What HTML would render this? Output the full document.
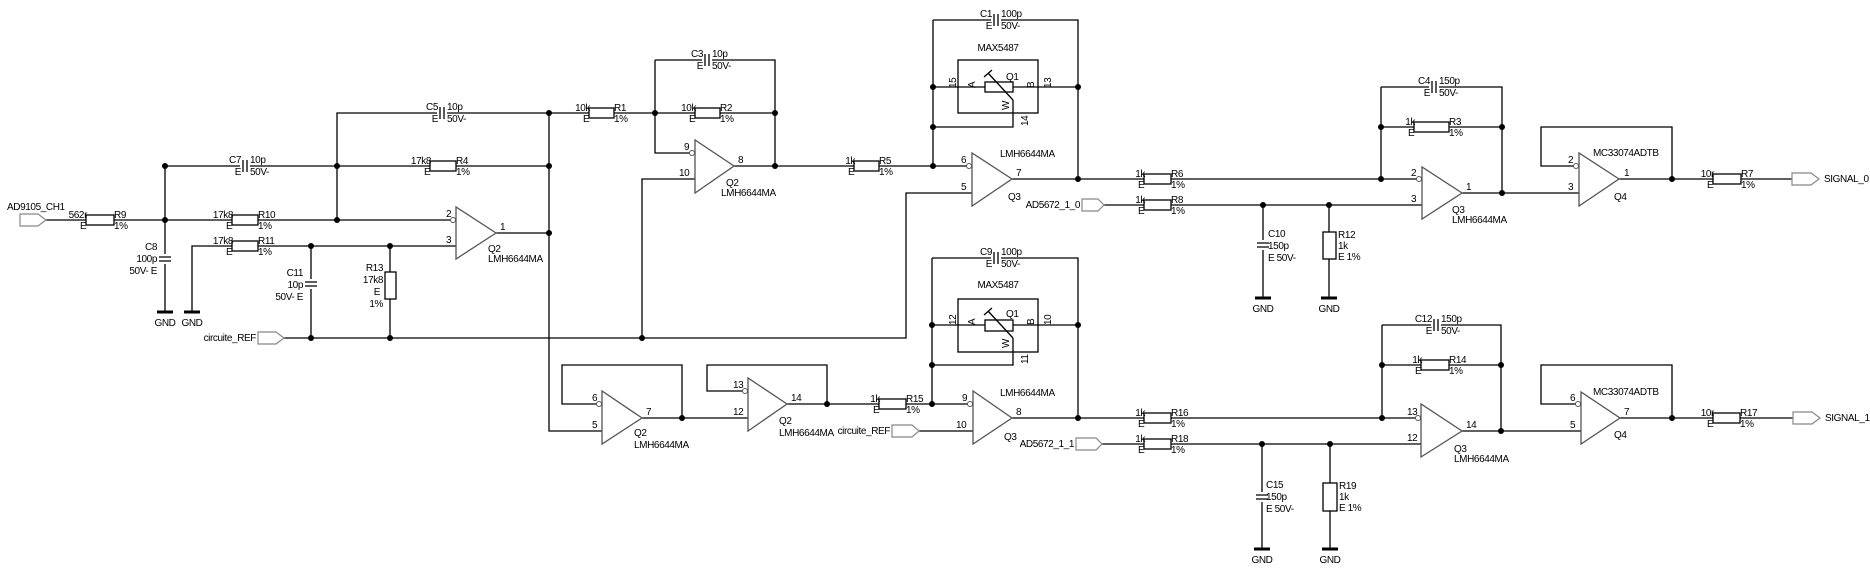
<!DOCTYPE html>
<html><head><meta charset="utf-8"><style>
html,body{margin:0;padding:0;background:#fff;}
svg{display:block}
text{font-family:"Liberation Sans",Arial,sans-serif;font-size:10px;fill:#000;letter-spacing:-0.4px}
.w{fill:none;stroke:#000;stroke-width:1.3}
.c{fill:#fff;stroke:#000;stroke-width:1.3}
.p{fill:#fff;stroke:#888;stroke-width:1.2}
.g{stroke:#000;stroke-width:3}
</style></head><body>
<svg width="1870" height="574" viewBox="0 0 1870 574" xmlns="http://www.w3.org/2000/svg">
<!-- wires -->
<path class="w" d="
M46 220H452 M165 166V312 M165 166H549 M337 220V113H549 M192 312V246H456 M311 246V338 M390 246V338
M284 338H906V193H972 M496 233H549 M549 113V431H602 M549 113H655H775 M655 60V153H693 M655 60H775V166
M642 338V179H695 M734 166H968 M933 20V166 M933 20H1078V179 M933 87H1078 M933 127H1013V100
M1012 179H1418 M1104 205H1422 M1381 87V179 M1381 87H1502V193 M1381 127H1502 M1462 193H1579
M1263 205V298 M1329 205V298 M1619 179H1792 M1576 166H1541V127H1672V179
M599 404H562V365H682V418 M642 418H748 M745 391H707V365H827V404 M787 404H969 M919 431H973
M932 258V404 M932 258H1078V418 M932 325H1078 M932 365H1013V338 M1012 418H1418 M1102 444H1421
M1382 325V418 M1382 325H1501V431 M1382 365H1501 M1462 431H1581 M1262 444V549 M1330 444V549
M1578 404H1541V365H1672V418 M1620 418H1793"/>
<!-- ground bars -->
<path class="g" d="M157 312H173 M184 312H200 M1255 298H1271 M1321 298H1337 M1254 549H1270 M1322 549H1338"/>
<g text-anchor="middle"><text x="165" y="326">GND</text><text x="192" y="326">GND</text><text x="1263" y="312">GND</text><text x="1329" y="312">GND</text><text x="1262" y="563">GND</text><text x="1330" y="563">GND</text></g>
<!-- ports -->
<polygon class="p" points="20,214 38,214 46,220 38,226 20,226"/><text x="7" y="210">AD9105_CH1</text>
<polygon class="p" points="258,332 276,332 284,338 276,344 258,344"/><text x="256" y="341" text-anchor="end">circuite_REF</text>
<polygon class="p" points="1082,199 1098,199 1104,205 1098,211 1082,211"/><text x="1080" y="208" text-anchor="end">AD5672_1_0</text>
<polygon class="p" points="892,425 912,425 919,431 912,437 892,437"/><text x="890" y="434" text-anchor="end">circuite_REF</text>
<polygon class="p" points="1076,438 1096,438 1102,444 1096,450 1076,450"/><text x="1074" y="447" text-anchor="end">AD5672_1_1</text>
<polygon class="p" points="1792,173 1811,173 1819,179 1811,185 1792,185"/><text x="1824" y="182">SIGNAL_0</text>
<polygon class="p" points="1793,412 1812,412 1820,418 1812,424 1793,424"/><text x="1825" y="421">SIGNAL_1</text>
<!-- horizontal resistors -->
<g>
<rect class="c" x="86" y="215" width="28" height="10"/><text x="87" y="218" text-anchor="end">562r</text><text x="80" y="229">E</text><text x="114" y="218">R9</text><text x="114" y="229">1%</text>
<rect class="c" x="232" y="215" width="26" height="10"/><text x="233" y="218" text-anchor="end">17k8</text><text x="226" y="229">E</text><text x="258" y="218">R10</text><text x="258" y="229">1%</text>
<rect class="c" x="232" y="241" width="26" height="10"/><text x="233" y="244" text-anchor="end">17k8</text><text x="226" y="255">E</text><text x="258" y="244">R11</text><text x="258" y="255">1%</text>
<rect class="c" x="430" y="161" width="26" height="10"/><text x="431" y="164" text-anchor="end">17k8</text><text x="424" y="175">E</text><text x="456" y="164">R4</text><text x="456" y="175">1%</text>
<rect class="c" x="589" y="108" width="25" height="10"/><text x="590" y="111" text-anchor="end">10k</text><text x="583" y="122">E</text><text x="614" y="111">R1</text><text x="614" y="122">1%</text>
<rect class="c" x="695" y="108" width="25" height="10"/><text x="696" y="111" text-anchor="end">10k</text><text x="689" y="122">E</text><text x="720" y="111">R2</text><text x="720" y="122">1%</text>
<rect class="c" x="854" y="161" width="25" height="10"/><text x="855" y="164" text-anchor="end">1k</text><text x="848" y="175">E</text><text x="879" y="164">R5</text><text x="879" y="175">1%</text>
<rect class="c" x="1144" y="174" width="27" height="10"/><text x="1145" y="177" text-anchor="end">1k</text><text x="1138" y="188">E</text><text x="1171" y="177">R6</text><text x="1171" y="188">1%</text>
<rect class="c" x="1144" y="200" width="27" height="10"/><text x="1145" y="203" text-anchor="end">1k</text><text x="1138" y="214">E</text><text x="1171" y="203">R8</text><text x="1171" y="214">1%</text>
<rect class="c" x="1414" y="122" width="35" height="10"/><text x="1415" y="125" text-anchor="end">1k</text><text x="1408" y="136">E</text><text x="1449" y="125">R3</text><text x="1449" y="136">1%</text>
<rect class="c" x="1713" y="174" width="28" height="10"/><text x="1714" y="177" text-anchor="end">10r</text><text x="1707" y="188">E</text><text x="1741" y="177">R7</text><text x="1741" y="188">1%</text>
<rect class="c" x="879" y="399" width="27" height="10"/><text x="880" y="402" text-anchor="end">1k</text><text x="873" y="413">E</text><text x="906" y="402">R15</text><text x="906" y="413">1%</text>
<rect class="c" x="1144" y="413" width="27" height="10"/><text x="1145" y="416" text-anchor="end">1k</text><text x="1138" y="427">E</text><text x="1171" y="416">R16</text><text x="1171" y="427">1%</text>
<rect class="c" x="1144" y="439" width="27" height="10"/><text x="1145" y="442" text-anchor="end">1k</text><text x="1138" y="453">E</text><text x="1171" y="442">R18</text><text x="1171" y="453">1%</text>
<rect class="c" x="1421" y="360" width="28" height="10"/><text x="1422" y="363" text-anchor="end">1k</text><text x="1415" y="374">E</text><text x="1449" y="363">R14</text><text x="1449" y="374">1%</text>
<rect class="c" x="1713" y="413" width="27" height="10"/><text x="1714" y="416" text-anchor="end">10r</text><text x="1707" y="427">E</text><text x="1740" y="416">R17</text><text x="1740" y="427">1%</text>
</g>
<!-- vertical resistors -->
<rect class="c" x="385" y="272" width="11" height="27"/><text x="383" y="271" text-anchor="end">R13</text><text x="383" y="283" text-anchor="end">17k8</text><text x="380" y="295" text-anchor="end">E</text><text x="383" y="307" text-anchor="end">1%</text>
<rect class="c" x="1323" y="232" width="13" height="27"/><text x="1338" y="238">R12</text><text x="1338" y="249">1k</text><text x="1338" y="260">E  1%</text>
<rect class="c" x="1323" y="483" width="14" height="28"/><text x="1339" y="489">R19</text><text x="1339" y="500">1k</text><text x="1339" y="511">E  1%</text>
<!-- horizontal caps -->
<g>
<rect x="240" y="159" width="10" height="14" fill="#fff"/><path class="w" d="M243 160V172M247 160V172"/><text x="241" y="163" text-anchor="end">C7</text><text x="241" y="175" text-anchor="end">E</text><text x="250" y="163">10p</text><text x="250" y="175">50V-</text>
<rect x="437" y="106" width="10" height="14" fill="#fff"/><path class="w" d="M440 107V119M444 107V119"/><text x="438" y="110" text-anchor="end">C5</text><text x="438" y="122" text-anchor="end">E</text><text x="447" y="110">10p</text><text x="447" y="122">50V-</text>
<rect x="702" y="53" width="10" height="14" fill="#fff"/><path class="w" d="M705 54V66M709 54V66"/><text x="703" y="57" text-anchor="end">C3</text><text x="703" y="69" text-anchor="end">E</text><text x="712" y="57">10p</text><text x="712" y="69">50V-</text>
<rect x="991" y="13" width="10" height="14" fill="#fff"/><path class="w" d="M994 14V26M998 14V26"/><text x="992" y="17" text-anchor="end">C1</text><text x="992" y="29" text-anchor="end">E</text><text x="1001" y="17">100p</text><text x="1001" y="29">50V-</text>
<rect x="991" y="251" width="10" height="14" fill="#fff"/><path class="w" d="M994 252V264M998 252V264"/><text x="992" y="255" text-anchor="end">C9</text><text x="992" y="267" text-anchor="end">E</text><text x="1001" y="255">100p</text><text x="1001" y="267">50V-</text>
<rect x="1429" y="80" width="10" height="14" fill="#fff"/><path class="w" d="M1432 81V93M1436 81V93"/><text x="1430" y="84" text-anchor="end">C4</text><text x="1430" y="96" text-anchor="end">E</text><text x="1439" y="84">150p</text><text x="1439" y="96">50V-</text>
<rect x="1431" y="318" width="10" height="14" fill="#fff"/><path class="w" d="M1434 319V331M1438 319V331"/><text x="1432" y="322" text-anchor="end">C12</text><text x="1432" y="334" text-anchor="end">E</text><text x="1441" y="322">150p</text><text x="1441" y="334">50V-</text>
</g>
<!-- vertical caps -->
<rect x="158" y="254" width="14" height="10" fill="#fff"/><path class="w" d="M159 257H171M159 261H171"/><text x="157" y="250" text-anchor="end">C8</text><text x="157" y="262" text-anchor="end">100p</text><text x="157" y="274" text-anchor="end">50V- E</text>
<rect x="304" y="279" width="14" height="10" fill="#fff"/><path class="w" d="M305 282H317M305 286H317"/><text x="303" y="276" text-anchor="end">C11</text><text x="303" y="288" text-anchor="end">10p</text><text x="303" y="300" text-anchor="end">50V- E</text>
<rect x="1256" y="240" width="14" height="10" fill="#fff"/><path class="w" d="M1257 243H1269M1257 247H1269"/><text x="1268" y="237">C10</text><text x="1268" y="249">150p</text><text x="1268" y="261">E 50V-</text>
<rect x="1255" y="492" width="14" height="10" fill="#fff"/><path class="w" d="M1256 495H1268M1256 499H1268"/><text x="1266" y="488">C15</text><text x="1266" y="500">150p</text><text x="1266" y="512">E 50V-</text>
<!-- MAX5487 top -->
<text x="998" y="51" text-anchor="middle">MAX5487</text>
<rect class="w" x="958" y="60" width="80" height="53"/>
<rect class="c" x="985" y="82" width="28" height="10"/>
<path class="w" d="M1013 100L988 73M984 77L992 70"/>
<text x="1006" y="80">Q1</text>
<text transform="translate(956,88) rotate(-90)">15</text><text transform="translate(975,88) rotate(-90)">A</text><text transform="translate(1034,88) rotate(-90)">B</text><text transform="translate(1051,88) rotate(-90)">13</text><text transform="translate(1009,110) rotate(-90)">W</text><text transform="translate(1028,126) rotate(-90)">14</text>
<!-- MAX5487 bottom -->
<text x="998" y="288" text-anchor="middle">MAX5487</text>
<rect class="w" x="958" y="299" width="80" height="53"/>
<rect class="c" x="985" y="320" width="28" height="11"/>
<path class="w" d="M1013 338L988 311M984 315L992 308"/>
<text x="1006" y="317">Q1</text>
<text transform="translate(956,325) rotate(-90)">12</text><text transform="translate(975,325) rotate(-90)">A</text><text transform="translate(1034,325) rotate(-90)">B</text><text transform="translate(1051,325) rotate(-90)">10</text><text transform="translate(1009,348) rotate(-90)">W</text><text transform="translate(1028,364) rotate(-90)">11</text>
<!-- opamps -->
<g class="c" style="stroke:#555">
<polygon points="456,207 456,259 496,233"/>
<polygon points="695,140 695,193 734,166"/>
<polygon points="972,153 972,206 1012,179"/>
<polygon points="1422,167 1422,219 1462,193"/>
<polygon points="1579,153 1579,206 1619,179"/>
<polygon points="602,391 602,444 642,418"/>
<polygon points="748,378 748,431 787,404"/>
<polygon points="973,391 973,444 1012,418"/>
<polygon points="1421,404 1421,457 1462,431"/>
<polygon points="1581,392 1581,444 1620,418"/>
</g>
<g fill="#fff" stroke="#555" stroke-width="1">
<circle cx="453" cy="220" r="2.5"/><circle cx="692" cy="153" r="2.5"/><circle cx="969" cy="166" r="2.5"/><circle cx="1419" cy="179" r="2.5"/><circle cx="1576" cy="166" r="2.5"/>
<circle cx="599" cy="404" r="2.5"/><circle cx="745" cy="391" r="2.5"/><circle cx="970" cy="404" r="2.5"/><circle cx="1418" cy="418" r="2.5"/><circle cx="1578" cy="404" r="2.5"/>
</g>
<!-- pin numbers & names -->
<g>
<text x="446" y="217">2</text><text x="446" y="243">3</text><text x="500" y="230">1</text><text x="488" y="252">Q2</text><text x="488" y="262">LMH6644MA</text>
<text x="684" y="150">9</text><text x="679" y="176">10</text><text x="738" y="163">8</text><text x="726" y="186">Q2</text><text x="721" y="196">LMH6644MA</text>
<text x="961" y="163">6</text><text x="961" y="190">5</text><text x="1016" y="176">7</text><text x="1000" y="157">LMH6644MA</text><text x="1008" y="200">Q3</text>
<text x="1411" y="176">2</text><text x="1411" y="202">3</text><text x="1466" y="190">1</text><text x="1452" y="213">Q3</text><text x="1452" y="223">LMH6644MA</text>
<text x="1568" y="163">2</text><text x="1568" y="190">3</text><text x="1624" y="176">1</text><text x="1593" y="156">MC33074ADTB</text><text x="1614" y="200">Q4</text>
<text x="592" y="401">6</text><text x="592" y="428">5</text><text x="646" y="415">7</text><text x="634" y="436">Q2</text><text x="634" y="448">LMH6644MA</text>
<text x="733" y="388">13</text><text x="733" y="415">12</text><text x="791" y="401">14</text><text x="779" y="424">Q2</text><text x="779" y="436">LMH6644MA</text>
<text x="962" y="401">9</text><text x="956" y="428">10</text><text x="1016" y="415">8</text><text x="1000" y="396">LMH6644MA</text><text x="1004" y="440">Q3</text>
<text x="1407" y="415">13</text><text x="1407" y="441">12</text><text x="1466" y="428">14</text><text x="1454" y="452">Q3</text><text x="1454" y="462">LMH6644MA</text>
<text x="1570" y="401">6</text><text x="1570" y="428">5</text><text x="1624" y="415">7</text><text x="1593" y="395">MC33074ADTB</text><text x="1614" y="438">Q4</text>
</g>
<!-- junction dots -->
<g fill="#000">
<circle cx="165" cy="220" r="3"/><circle cx="165" cy="166" r="3"/><circle cx="337" cy="166" r="3"/><circle cx="337" cy="220" r="3"/>
<circle cx="549" cy="113" r="3"/><circle cx="549" cy="166" r="3"/><circle cx="549" cy="233" r="3"/>
<circle cx="311" cy="246" r="3"/><circle cx="390" cy="246" r="3"/><circle cx="311" cy="338" r="3"/><circle cx="390" cy="338" r="3"/><circle cx="642" cy="338" r="3"/>
<circle cx="655" cy="113" r="3"/><circle cx="775" cy="113" r="3"/><circle cx="775" cy="166" r="3"/>
<circle cx="933" cy="166" r="3"/><circle cx="933" cy="87" r="3"/><circle cx="933" cy="127" r="3"/><circle cx="1078" cy="87" r="3"/><circle cx="1078" cy="179" r="3"/>
<circle cx="1381" cy="179" r="3"/><circle cx="1381" cy="127" r="3"/><circle cx="1502" cy="127" r="3"/><circle cx="1502" cy="193" r="3"/>
<circle cx="1263" cy="205" r="3"/><circle cx="1329" cy="205" r="3"/><circle cx="1672" cy="179" r="3"/>
<circle cx="682" cy="418" r="3"/><circle cx="827" cy="404" r="3"/><circle cx="932" cy="404" r="3"/><circle cx="932" cy="325" r="3"/><circle cx="932" cy="365" r="3"/>
<circle cx="1078" cy="325" r="3"/><circle cx="1078" cy="418" r="3"/>
<circle cx="1382" cy="418" r="3"/><circle cx="1382" cy="365" r="3"/><circle cx="1501" cy="365" r="3"/><circle cx="1501" cy="431" r="3"/>
<circle cx="1262" cy="444" r="3"/><circle cx="1330" cy="444" r="3"/><circle cx="1672" cy="418" r="3"/>
</g>
</svg>
</body></html>
